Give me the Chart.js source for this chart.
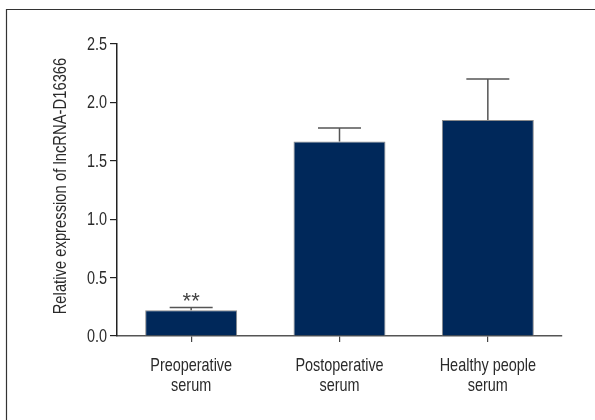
<!DOCTYPE html>
<html>
<head>
<meta charset="utf-8">
<script src="https://cdn.jsdelivr.net/npm/chart.js@4"></script>
<style>
  html, body { margin: 0; padding: 0; background: #fff; }
  #wrap { width: 595px; height: 420px; position: relative; }
</style>
</head>
<body>
<div id="wrap"><canvas id="c" width="595" height="420"></canvas></div>
<script>
// Groups and measured expression (mean with upper SD)
const categories = [['Preoperative', 'serum'], ['Postoperative', 'serum'], ['Healthy people', 'serum']];
const meanValues = [0.22, 1.665, 1.85];
const sdValues = [0.025, 0.115, 0.35];
const significance = ['**', '', ''];
const yTicks = [0, 0.5, 1.0, 1.5, 2.0, 2.5];
const yTitle = 'Relative expression of lncRNA-D16366';

const FONT = "'Liberation Sans', Arimo, Arial, sans-serif";
const TEXT = '#2a2a2a';
const NARROW = 0.78; // horizontal squeeze for a condensed look

// Draw horizontally condensed text, optionally rotated
function narrowText(ctx, str, x, y, o) {
  ctx.save();
  ctx.translate(x, y);
  if (o.rotate) ctx.rotate(o.rotate);
  ctx.scale(o.squeeze || NARROW, 1);
  ctx.font = (o.size || 18.5) + 'px ' + FONT;
  ctx.fillStyle = o.color || TEXT;
  ctx.textAlign = o.align || 'center';
  ctx.textBaseline = o.baseline || 'alphabetic';
  ctx.fillText(str, 0, 0);
  ctx.restore();
}

// Axis labels and title
const axisText = {
  id: 'axisText',
  afterDraw(chart) {
    const ctx = chart.ctx;
    const x = chart.scales.x, y = chart.scales.y;
    yTicks.forEach(v => {
      narrowText(ctx, v.toFixed(1), y.right - 10, y.getPixelForValue(v) + 1, { align: 'right', baseline: 'middle' });
    });
    categories.forEach((lines, i) => {
      const cx = x.getPixelForValue(i);
      lines.forEach((ln, k) => {
        narrowText(ctx, ln, cx, x.top + 35 + k * 19.5, {});
      });
    });
    const cy = (chart.chartArea.top + chart.chartArea.bottom) / 2 - 4;
    narrowText(ctx, yTitle, 61, cy, { rotate: -Math.PI / 2, baseline: 'middle', squeeze: 0.8 });
  }
};

// Upper-only error bars with caps, plus significance marks
const errorBars = {
  id: 'errorBars',
  afterDatasetsDraw(chart) {
    const ctx = chart.ctx;
    const meta = chart.getDatasetMeta(0);
    const y = chart.scales.y;
    ctx.save();
    meta.data.forEach((bar, i) => {
      const top = y.getPixelForValue(meanValues[i] + sdValues[i]);
      const base = y.getPixelForValue(meanValues[i]);
      ctx.strokeStyle = '#555';
      ctx.lineWidth = 1.5;
      ctx.beginPath();
      ctx.moveTo(bar.x, base);
      ctx.lineTo(bar.x, top);
      ctx.moveTo(bar.x - 21.5, top);
      ctx.lineTo(bar.x + 21.5, top);
      ctx.stroke();
      if (significance[i]) {
        narrowText(ctx, significance[i], bar.x, top + 1, { size: 22, squeeze: 1, color: '#444' });
      }
    });
    ctx.restore();
  }
};

// Panel frame (top and left edges)
const frame = {
  id: 'frame',
  beforeDraw(chart) {
    const ctx = chart.ctx;
    ctx.save();
    ctx.strokeStyle = '#333';
    ctx.lineWidth = 1.2;
    ctx.beginPath();
    ctx.moveTo(6.5, 430);
    ctx.lineTo(6.5, 9.5);
    ctx.lineTo(600, 9.5);
    ctx.stroke();
    ctx.restore();
  }
};

new Chart(document.getElementById('c'), {
  type: 'bar',
  data: {
    labels: categories,
    datasets: [{
      data: meanValues,
      backgroundColor: '#00285a',
      borderColor: '#8a8a8a',
      borderWidth: 1,
      barPercentage: 0.62,
      categoryPercentage: 1.0
    }]
  },
  options: {
    responsive: false,
    animation: false,
    devicePixelRatio: 1,
    layout: { padding: { left: 0, right: 33, top: 44, bottom: 0 } },
    plugins: { legend: { display: false }, tooltip: { enabled: false } },
    scales: {
      x: {
        grid: { offset: false, drawOnChartArea: false, tickLength: 6, tickColor: '#444', lineWidth: 1.2 },
        border: { color: '#555', width: 1.5 },
        ticks: { display: false },
        afterFit(s) { s.height = 84; }
      },
      y: {
        min: 0, max: 2.5,
        afterBuildTicks(s) { s.ticks = yTicks.map(v => ({ value: v })); },
        grid: { drawOnChartArea: false, tickLength: 7, tickColor: '#222', lineWidth: 1.2 },
        border: { color: '#222', width: 1.5 },
        ticks: { display: false },
        afterFit(s) { s.width = 117; }
      }
    }
  },
  plugins: [frame, errorBars, axisText]
});
</script>
</body>
</html>
